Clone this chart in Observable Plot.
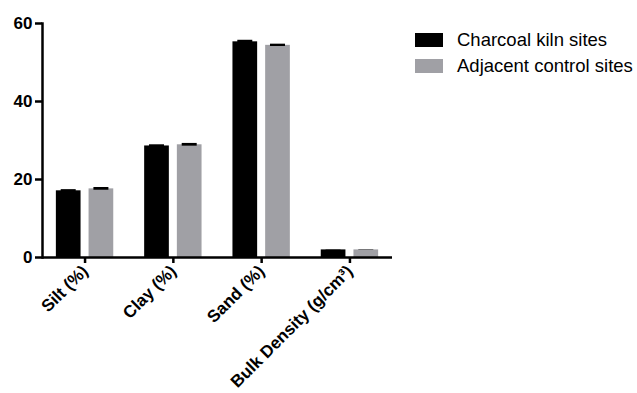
<!DOCTYPE html>
<html>
<head>
<meta charset="utf-8">
<script src="https://cdn.jsdelivr.net/npm/d3@7"></script>
<script src="https://cdn.jsdelivr.net/npm/@observablehq/plot@0.6"></script>
<style>
  html, body { margin: 0; padding: 0; background: #fff; }
  #wrap { position: relative; width: 637px; height: 393px; font-family: "Liberation Sans", Arial, sans-serif; }
  .leg { position: absolute; left: 415px; display: flex; align-items: center; font-size: 18.5px; color: #000; white-space: nowrap; }
  .leg .sw { width: 28px; height: 14px; margin-right: 14px; }
</style>
</head>
<body>
<div id="wrap"></div>
<script>
const categories = ["Silt (%)", "Clay (%)", "Sand (%)", "Bulk Density (g/cm³)"];
const seriesNames = ["Charcoal kiln sites", "Adjacent control sites"];
const kilnValues = [17.1, 28.6, 55.3, 1.95];
const kilnErrors = [0.3, 0.3, 0.4, 0.05];
const controlValues = [17.6, 28.9, 54.4, 1.95];
const controlErrors = [0.35, 0.35, 0.3, 0.05];
const yTicks = [0, 20, 40, 60];
const colors = ["#000000", "#a0a0a5"];

const kiln = categories.map((c, i) => ({category: c, value: kilnValues[i], err: kilnErrors[i]}));
const control = categories.map((c, i) => ({category: c, value: controlValues[i], err: controlErrors[i]}));

// band geometry: bandwidth ≈ 57.4px, each bar ≈ 24.7px, gap 8px
const barInset = 32.7;
const capInset = 4.85;

const chart = Plot.plot({
  width: 637,
  height: 393,
  marginTop: 23,
  marginBottom: 136,
  marginLeft: 42,
  marginRight: 245,
  style: {fontFamily: "'Liberation Sans', Arial, sans-serif", fontSize: "17px", fontWeight: "bold", color: "#000", background: "#fff"},
  x: {domain: categories, paddingInner: 0.35, paddingOuter: 0.157, round: false, label: null},
  y: {domain: [0, 60], label: null},
  marks: [
    Plot.barY(kiln, {x: "category", y: "value", fill: colors[0], insetLeft: 0, insetRight: barInset}),
    Plot.barY(control, {x: "category", y: "value", fill: colors[1], insetLeft: barInset, insetRight: 0}),
    Plot.rectY(kiln, {x: "category", y1: d => d.value - d.err, y2: d => d.value + d.err, fill: "#000", insetLeft: capInset, insetRight: barInset + capInset}),
    Plot.rectY(control, {x: "category", y1: d => d.value - d.err, y2: d => d.value + d.err, fill: "#000", insetLeft: barInset + capInset, insetRight: capInset}),
    Plot.axisY({ticks: yTicks, tickSize: 7, tickPadding: 3, strokeWidth: 2.5, fontSize: 17, fontWeight: "bold"}),
    Plot.axisX({tickSize: 6, tickRotate: -45, tickPadding: 5, strokeWidth: 2.5, fontSize: 17, fontWeight: "bold"}),
    Plot.frame({anchor: "left", strokeWidth: 2.5}),
    Plot.ruleY([0], {strokeWidth: 2.5})
  ]
});
const wrap = document.getElementById("wrap");
wrap.appendChild(chart);

seriesNames.forEach((name, i) => {
  const row = document.createElement("div");
  row.className = "leg";
  row.style.top = (29 + i * 26) + "px";
  const sw = document.createElement("div");
  sw.className = "sw";
  sw.style.background = colors[i];
  const t = document.createElement("span");
  t.textContent = name;
  row.appendChild(sw);
  row.appendChild(t);
  wrap.appendChild(row);
});
</script>
</body>
</html>
